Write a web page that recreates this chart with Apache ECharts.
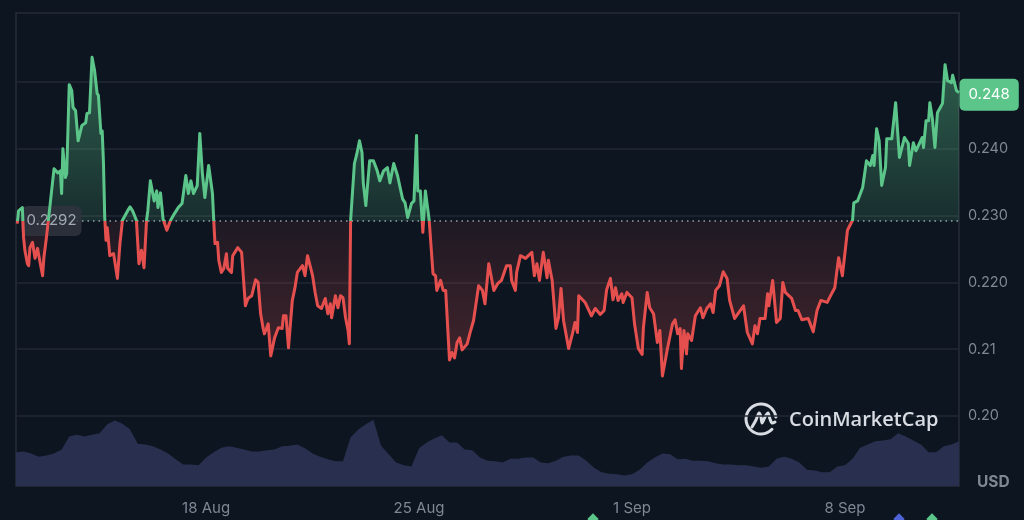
<!DOCTYPE html>
<html>
<head>
<meta charset="utf-8">
<script src="https://cdn.jsdelivr.net/npm/echarts@6/dist/echarts.min.js"></script>
<style>
  html, body { margin: 0; padding: 0; background: #0d1520; }
  #main { width: 1024px; height: 520px; }
</style>
</head>
<body>
<div id="main"></div>
<script>
// hours since 11 Aug 18:00, one entry per price point
var priceHours = [
  1, 2, 5, 6, 7, 9, 10, 11, 13, 15, 17, 18, 21, 22, 24, 27, 30, 33, 35, 36,
  37, 39, 40, 42, 44, 45, 47, 49, 52, 55, 56, 58, 60, 62, 64, 65, 67, 68, 69, 70,
  71, 72, 74, 77, 80, 82, 84, 88, 90, 92, 95, 97, 99, 101, 103, 104, 106, 107, 109, 111,
  112, 114, 115, 116, 119, 122, 125, 128, 131, 134, 136, 138, 140, 143, 145, 147, 149, 152, 155, 156,
  157, 159, 160, 162, 164, 166, 167, 170, 171, 175, 178, 179, 181, 183, 186, 189, 191, 193, 195, 196,
  199, 201, 204, 207, 210, 211, 213, 215, 218, 220, 222, 226, 228, 230, 234, 236, 238, 241, 244, 246,
  248, 249, 252, 254, 256, 258, 260, 262, 263, 264, 267, 269, 271, 273, 274, 276, 277, 279, 282, 285,
  287, 290, 293, 295, 298, 301, 305, 307, 309, 312, 314, 316, 317, 319, 321, 323, 326, 329, 331, 332,
  335, 337, 339, 342, 344, 346, 348, 350, 352, 356, 358, 361, 365, 368, 370, 373, 377, 380, 383, 387,
  390, 391, 394, 395, 398, 402, 407, 409, 411, 413, 416, 419, 420, 423, 426, 428, 430, 432, 436, 439,
  441, 443, 444, 449, 454, 457, 461, 464, 466, 469, 471, 473, 475, 478, 479, 482, 486, 488, 491, 494,
  495, 498, 500, 503, 506, 508, 510, 514, 518, 520, 522, 524, 525, 527, 529, 530, 533, 536, 540, 542,
  545, 548, 550, 552, 555, 558, 561, 563, 567, 574, 577, 581, 583, 585, 587, 591, 593, 594, 597, 600,
  603, 605, 607, 612, 615, 617, 620, 625, 629, 632, 635, 640, 644, 646, 649, 652, 656, 660, 661, 664,
  668, 671, 674, 676, 677, 679, 681, 683, 686, 687, 691, 694, 695, 697, 701, 704, 705, 708, 710, 715,
  716, 718, 720, 721, 723, 725, 727, 731, 733, 735, 738, 739, 742, 744
];
var priceValues = [
  .2288, .2307, .2312, .2267, .2248, .2228, .2225, .2252, .2260, .2236, .2251, .2240, .2210, .2237, .2267, .2318, .2370, .2364, .2367, .2333,
  .2400, .2357, .2363, .2496, .2487, .2462, .2457, .2412, .2435, .2439, .2453, .2454, .2537, .2517, .2483, .2480, .2423, .2427, .2379, .2297,
  .2263, .2282, .2240, .2243, .2206, .2258, .2293, .2307, .2313, .2307, .2293, .2228, .2248, .2222, .2293, .2307, .2352, .2350, .2322, .2337,
  .2312, .2334, .2333, .2295, .2278, .2293, .2303, .2312, .2318, .2360, .2333, .2352, .2333, .2345, .2423, .2364, .2327, .2375, .2333, .2293,
  .2258, .2260, .2233, .2215, .2221, .2243, .2221, .2215, .2240, .2252, .2245, .2218, .2165, .2176, .2180, .2204, .2200, .2153, .2131, .2123,
  .2138, .2090, .2117, .2132, .2131, .2150, .2150, .2102, .2173, .2191, .2215, .2225, .2210, .2240, .2210, .2185, .2165, .2161, .2176, .2153,
  .2168, .2147, .2180, .2162, .2180, .2177, .2147, .2128, .2108, .2293, .2378, .2393, .2412, .2394, .2349, .2315, .2316, .2382, .2382, .2367,
  .2352, .2367, .2372, .2349, .2378, .2360, .2325, .2319, .2297, .2318, .2322, .2420, .2337, .2337, .2275, .2337, .2293, .2213, .2210, .2188,
  .2203, .2188, .2188, .2084, .2095, .2087, .2110, .2117, .2099, .2108, .2123, .2143, .2195, .2188, .2168, .2228, .2188, .2198, .2203, .2225,
  .2225, .2203, .2188, .2215, .2240, .2236, .2245, .2210, .2228, .2203, .2245, .2207, .2233, .2203, .2131, .2147, .2191, .2143, .2101, .2123,
  .2140, .2125, .2180, .2170, .2150, .2161, .2152, .2158, .2189, .2206, .2174, .2192, .2173, .2183, .2170, .2185, .2177, .2138, .2101, .2092,
  .2132, .2185, .2162, .2153, .2110, .2128, .2060, .2101, .2138, .2144, .2123, .2131, .2071, .2128, .2093, .2123, .2113, .2150, .2162, .2147,
  .2161, .2168, .2155, .2188, .2195, .2216, .2206, .2173, .2146, .2165, .2125, .2108, .2135, .2123, .2146, .2146, .2183, .2165, .2203, .2140,
  .2146, .2200, .2185, .2176, .2158, .2158, .2144, .2146, .2126, .2158, .2173, .2170, .2185, .2192, .2237, .2210, .2278, .2293, .2319, .2322,
  .2342, .2382, .2375, .2390, .2375, .2430, .2412, .2345, .2372, .2415, .2415, .2469, .2469, .2387, .2417, .2408, .2375, .2409, .2397, .2417,
  .2402, .2442, .2442, .2469, .2445, .2402, .2454, .2468, .2526, .2502, .2499, .2510, .2487, .2484
];
// volume, one value every 6 hours (relative scale, no axis on the picture)
var volumeValues = [
  52, 53, 50, 45, 47, 50, 56, 76, 79, 76, 79, 81, 95, 101, 96, 87, 65, 64, 61, 56,
  50, 41, 33, 33, 32, 44, 52, 59, 61, 59, 56, 53, 53, 55, 56, 61, 62, 64, 58, 50,
  45, 41, 38, 38, 75, 87, 95, 102, 62, 49, 36, 32, 30, 58, 67, 73, 78, 67, 67, 56,
  55, 44, 39, 38, 36, 42, 42, 44, 44, 36, 35, 39, 45, 47, 47, 39, 28, 21, 19, 18,
  16, 18, 25, 36, 44, 50, 49, 41, 42, 39, 39, 38, 35, 33, 33, 32, 32, 30, 28, 30,
  42, 45, 42, 36, 25, 24, 21, 21, 30, 32, 42, 59, 64, 69, 70, 72, 81, 76, 70, 64,
  52, 52, 61, 64, 69
];
var openPrice = 0.2292;
var lastPrice = 0.2481;
var xTickHours = [150, 318, 486, 654];
var xTickLabels = ['18 Aug', '25 Aug', '1 Sep', '8 Sep'];
var yTickValues = [0.20, 0.21, 0.22, 0.23, 0.24];
var yTickLabels = ['0.20', '0.21', '0.220', '0.230', '0.240'];

var GREEN = '#5cc68a';
var RED = '#e5504f';
var TEXT = '#7f8793';

var chart = echarts.init(document.getElementById('main'), null, { renderer: 'canvas' });

var maxPrice = Math.max.apply(null, priceValues);
var minPrice = Math.min.apply(null, priceValues);
var split = (maxPrice - openPrice) / (maxPrice - minPrice);

var option = {
  animation: false,
  backgroundColor: '#0d1520',
  textStyle: { fontFamily: 'Inter' },
  grid: [
    { left: 16, width: 943, top: 15.2, height: 467.6 },
    { left: 16, width: 943, top: 13, height: 473, show: true, borderColor: '#262d39', borderWidth: 1.5, backgroundColor: 'transparent' }
  ],
  xAxis: [
    {
      type: 'value', gridIndex: 0, min: 0, max: 744,
      axisLine: { show: false }, axisTick: { show: false }, splitLine: { show: false },
      axisLabel: { show: false }
    },
    {
      type: 'value', gridIndex: 1, min: 0, max: 744,
      axisLine: { show: false }, axisTick: { show: false }, splitLine: { show: false },
      axisLabel: {
        show: true,
        customValues: xTickHours,
        formatter: function (v) { return xTickLabels[xTickHours.indexOf(v)] || ''; },
        color: TEXT, fontSize: 15, margin: 15
      }
    }
  ],
  yAxis: [
    {
      type: 'value', gridIndex: 0, position: 'right', min: 0.19, max: 0.26, interval: 0.01,
      axisLine: { show: false }, axisTick: { show: false },
      splitLine: { show: true, showMinLine: false, showMaxLine: false, lineStyle: { color: '#222935', width: 1.5 } },
      axisLabel: {
        color: TEXT, fontSize: 14.5, margin: 9,
        formatter: function (v) {
          var i = yTickValues.findIndex(function (t) { return Math.abs(t - v) < 1e-6; });
          return i < 0 ? '' : yTickLabels[i];
        }
      }
    },
    {
      type: 'value', gridIndex: 1, min: 0, max: 728,
      axisLine: { show: false }, axisTick: { show: false }, splitLine: { show: false }, axisLabel: { show: false }
    }
  ],
  series: [
    {
      name: 'price',
      type: 'line',
      xAxisIndex: 0,
      yAxisIndex: 0,
      symbol: 'none',
      z: 5,
      // hard colour stop at the opening price, offsets run over the line's own height
      lineStyle: {
        width: 3,
        join: 'round',
        color: {
          type: 'linear', x: 0, y: 0, x2: 0, y2: 1,
          colorStops: [
            { offset: 0, color: GREEN },
            { offset: split, color: GREEN },
            { offset: split, color: RED },
            { offset: 1, color: RED }
          ]
        }
      },
      data: priceHours.map(function (h, i) { return [h, priceValues[i]]; }),
      areaStyle: {
        origin: openPrice,
        opacity: 1,
        color: {
          type: 'linear', x: 0, y: 0, x2: 0, y2: 1,
          colorStops: [
            { offset: 0, color: 'rgba(92,198,138,0.42)' },
            { offset: split, color: 'rgba(92,198,138,0.14)' },
            { offset: split, color: 'rgba(229,80,79,0.08)' },
            { offset: 1, color: 'rgba(229,80,79,0.26)' }
          ]
        }
      },
      markLine: {
        silent: true,
        symbol: 'none',
        animation: false,
        precision: 4,
        label: { show: false },
        lineStyle: { color: '#9aa0aa', type: [1.5, 4], width: 1.5 },
        data: [{ yAxis: openPrice }]
      },
      markPoint: {
        silent: true,
        animation: false,
        symbol: 'circle',
        symbolSize: 1,
        itemStyle: { color: 'transparent' },
        data: [
          {
            coord: [28, openPrice],
            label: {
              show: true, position: 'inside', formatter: String(openPrice),
              color: '#a3a9b3', fontSize: 15, backgroundColor: 'rgba(48,52,62,0.85)',
              borderRadius: 6, padding: [8, 5, 7, 5]
            }
          },
          {
            coord: [744, lastPrice],
            label: {
              show: true, position: 'right', distance: 0, formatter: '0.248',
              color: '#ffffff', fontSize: 15, backgroundColor: GREEN,
              borderRadius: 5, padding: [9, 9, 8, 9]
            }
          }
        ]
      }
    },
    {
      name: 'volume',
      type: 'line',
      xAxisIndex: 1,
      yAxisIndex: 1,
      symbol: 'none',
      z: 3,
      lineStyle: { width: 0 },
      areaStyle: { color: '#29304f', opacity: 1 },
      data: volumeValues.map(function (v, i) { return [i * 6, v]; })
    }
  ],
  graphic: [
    { type: 'text', left: 977, top: 474, z: 20, style: { text: 'USD', fill: TEXT, font: 'bold 15.5px Inter' } },
    {
      type: 'group', x: 761, y: 419, z: 20,
      children: [
        { type: 'arc', shape: { cx: 0, cy: 0, r: 15, startAngle: 0.75, endAngle: 6.15, clockwise: true },
          style: { stroke: '#d9dde3', lineWidth: 3, fill: 'none', lineCap: 'round' } },
        { type: 'polyline', shape: { points: [[-9, 8], [-5, 1], [-2, -6], [0, -2], [1, 4], [4, -2], [7, -6], [9, 0], [11, 4], [14, 3]], smooth: 0.3 },
          style: { stroke: '#d9dde3', lineWidth: 3, fill: 'none', lineCap: 'round' } }
      ]
    },
    { type: 'text', left: 789, top: 410, z: 20, style: { text: 'CoinMarketCap', fill: '#d9dde3', font: '600 20px "Open Sans"' } },
    { type: 'rect', x: 593, y: 519, rotation: Math.PI / 4, shape: { x: -4, y: -4, width: 8, height: 8 }, style: { fill: GREEN } },
    { type: 'rect', x: 899, y: 519, rotation: Math.PI / 4, shape: { x: -4, y: -4, width: 8, height: 8 }, style: { fill: '#4f63d8' } },
    { type: 'rect', x: 932, y: 519, rotation: Math.PI / 4, shape: { x: -4, y: -4, width: 8, height: 8 }, style: { fill: GREEN } }
  ]
};

chart.setOption(option);
</script>
</body>
</html>
